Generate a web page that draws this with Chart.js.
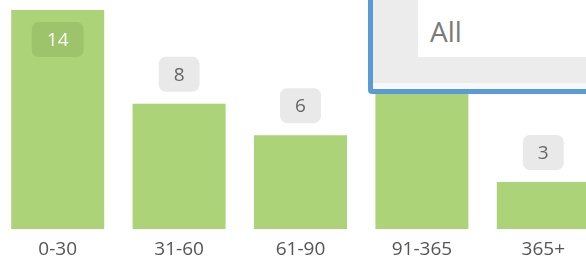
<!DOCTYPE html>
<html>
<head>
<meta charset="utf-8">
<script src="https://cdn.jsdelivr.net/npm/chart.js@4"></script>
<style>
  html, body { margin:0; padding:0; background:#fff; width:586px; height:260px; overflow:hidden; position:relative; font-family:"Open Sans", sans-serif; }
  #wrap { position:absolute; left:-3px; top:0; width:607px; height:260px; }
  #dd { position:absolute; left:368px; top:-12px; width:260px; height:96px; border:5px solid #5b9bd5; border-radius:4px; background:#ececec; box-sizing:content-box; }
  #dd .band { position:absolute; left:0; right:0; bottom:0; height:6px; background:#f8f8f8; }
  #dd .input { position:absolute; left:45px; top:0; right:0; height:64px; background:#fff; }
  #dd .txt { position:absolute; left:12px; top:22px; font-size:28px; line-height:32px; color:#7a7a7a; font-family:"Open Sans", sans-serif; }
</style>
</head>
<body>
<div id="wrap"><canvas id="c"></canvas></div>
<div id="dd"><div class="band"></div><div class="input"><div class="txt">All</div></div></div>
<script>
const categories = ["0-30", "31-60", "61-90", "91-365", "365+"];
const counts = [14, 8, 6, 10, 3];

const boxLabels = {
  id: 'boxLabels',
  afterDatasetsDraw(chart) {
    const ctx = chart.ctx;
    const meta = chart.getDatasetMeta(0);
    const area = chart.chartArea;
    ctx.save();
    ctx.font = '19px "Open Sans"';
    ctx.textAlign = 'center';
    ctx.textBaseline = 'middle';
    meta.data.forEach((bar, i) => {
      const txt = String(chart.data.datasets[0].data[i]);
      const w = ctx.measureText(txt).width + 30;
      const h = 35;
      let top = bar.y - 12 - h;
      let inside = false;
      if (top < area.top) { top = bar.y + 12; inside = true; }
      const left = bar.x - w / 2;
      ctx.beginPath();
      ctx.roundRect(left, top, w, h, 7);
      ctx.fillStyle = inside ? 'rgba(90,130,50,0.18)' : '#e9e9e9';
      ctx.fill();
      ctx.fillStyle = inside ? '#ffffff' : '#666666';
      ctx.fillText(txt, bar.x, top + h / 2 + 1);
    });
    ctx.restore();
  }
};

new Chart(document.getElementById('c'), {
  type: 'bar',
  data: {
    labels: categories,
    datasets: [{
      data: counts,
      backgroundColor: '#acd377',
      borderWidth: 0,
      categoryPercentage: 1,
      barPercentage: 0.766
    }]
  },
  options: {
    responsive: true,
    maintainAspectRatio: false,
    animation: false,
    layout: { padding: 0 },
    plugins: { legend: { display: false }, tooltip: { enabled: false } },
    scales: {
      x: {
        grid: { display: false, drawTicks: false },
        border: { display: false },
        ticks: { color: '#555', font: { family: 'Open Sans', size: 19 }, padding: 9, maxRotation: 0 },
        afterFit: (s) => { s.height = 31; }
      },
      y: { display: false, min: 0, max: 14.64 }
    }
  },
  plugins: [boxLabels]
});
</script>
</body>
</html>
